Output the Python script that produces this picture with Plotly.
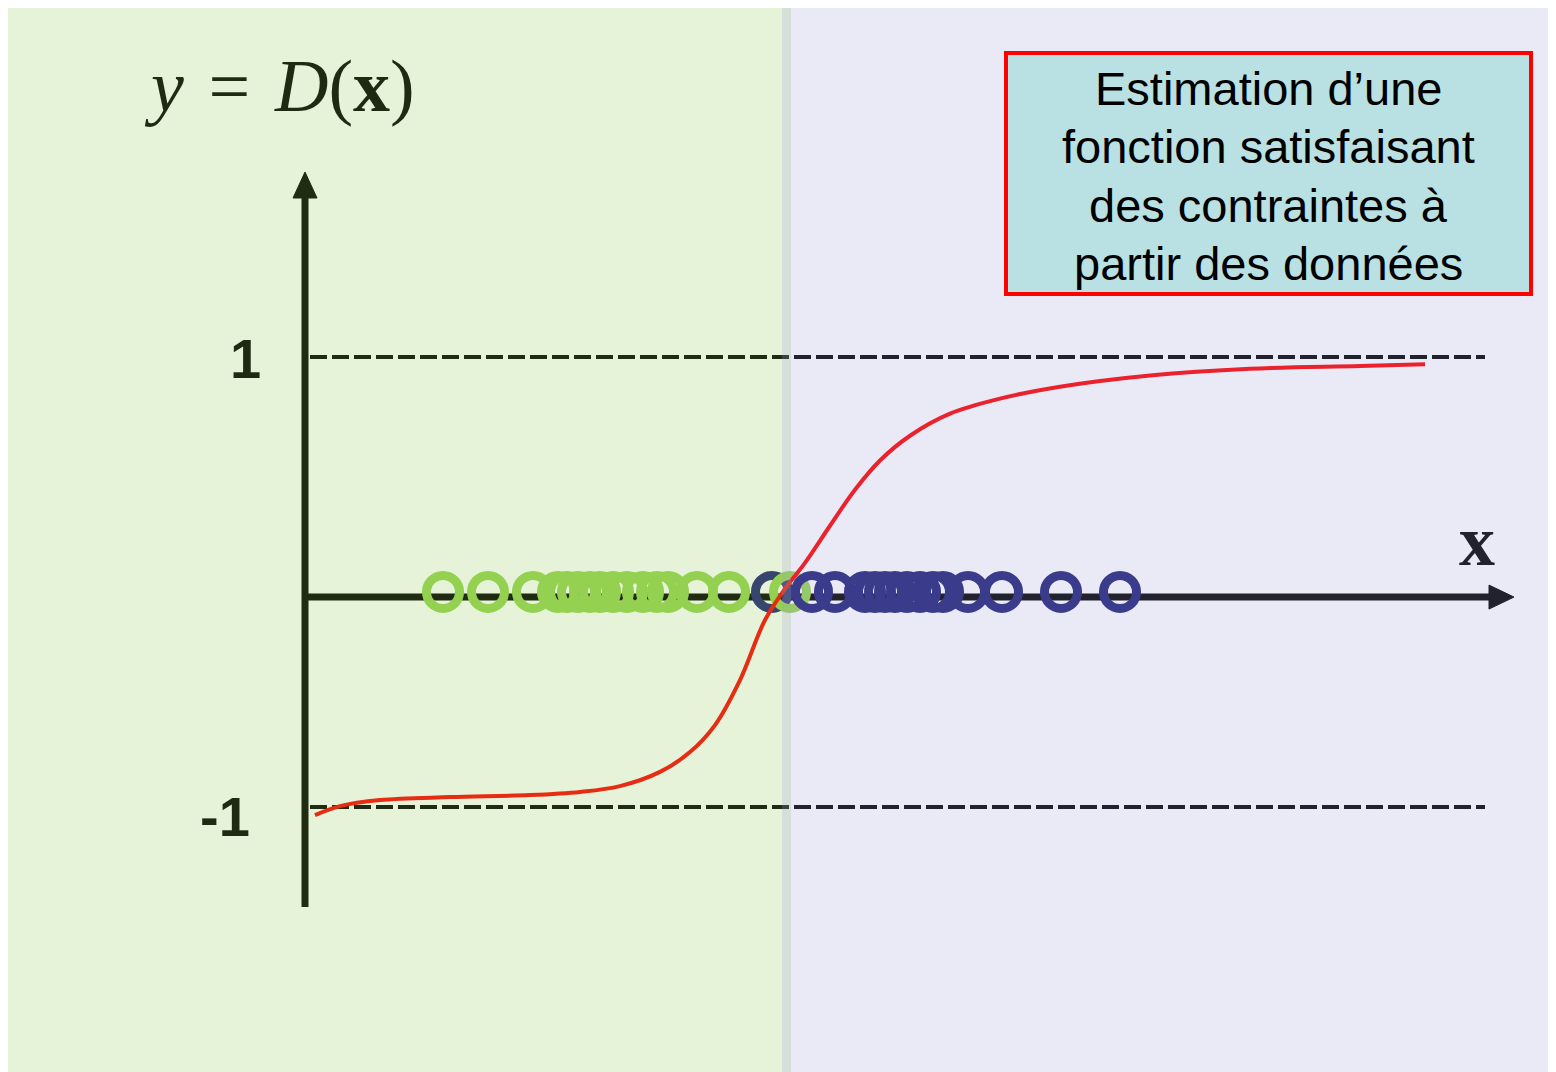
import plotly.graph_objects as go

OFF = 8                      # page offset of the plot div (body margin)
W, H = 1556 - OFF, 1072 - OFF
# axis scales: data units -> page pixels (layout)
XPX, X0PX = 100.0, 305.0
YPX, Y0PX = 225.0, 582.0

# ---- data ----
green_x = [1.38, 1.83, 2.28, 2.53, 2.62, 2.73, 2.85, 2.95, 3.08, 3.22, 3.38, 3.52, 3.63, 3.92, 4.24, 4.85]
navy_x = [4.67, 5.07, 5.30, 5.60, 5.70, 5.80, 5.90, 6.02, 6.15, 6.28, 6.38, 6.63, 6.97, 7.56, 8.15]
circle_y = -0.044
axis_y = -0.067

curve_x = [0.10, 0.35, 0.75, 1.45, 2.25, 2.75, 3.15, 3.55, 3.85, 4.10, 4.35, 4.60, 4.80, 5.00,
           5.25, 5.50, 5.75, 6.05, 6.45, 6.95, 7.55, 8.45, 9.45, 10.55, 11.20]
curve_y = [-1.036, -0.996, -0.969, -0.956, -0.947, -0.933, -0.907, -0.844, -0.756, -0.636,
           -0.436, -0.169, -0.030, 0.085, 0.250, 0.410, 0.540, 0.650, 0.748, 0.815, 0.868,
           0.918, 0.948, 0.960, 0.968]

bounds = [1, -1]
tick_labels = ["1", "-1"]
dash_x = [0.05, 11.8]

box_lines = ["Estimation d\u2019une", "fonction satisfaisant", "des contraintes \u00e0", "partir des donn\u00e9es"]

GREEN = "#96d450"
NAVY = "#212178"

fig = go.Figure()

# dashed bounds
for b in bounds:
    fig.add_trace(go.Scatter(x=dash_x, y=[b, b], mode="lines",
                             line=dict(color="black", width=4, dash="17px,5px"),
                             hoverinfo="skip", showlegend=False))

# axes lines
ax_top = (Y0PX - 196) / YPX
ax_bot = (Y0PX - 907) / YPX
ax_right = (1492 - X0PX) / XPX
fig.add_trace(go.Scatter(x=[0, 0], y=[ax_bot, ax_top], mode="lines",
                         line=dict(color="black", width=7), hoverinfo="skip", showlegend=False))
fig.add_trace(go.Scatter(x=[0, ax_right], y=[axis_y, axis_y], mode="lines",
                         line=dict(color="black", width=7), hoverinfo="skip", showlegend=False))
# arrowheads
hw = 12 / XPX
yb, yt = (Y0PX - 198) / YPX, (Y0PX - 172) / YPX
fig.add_trace(go.Scatter(x=[-hw, hw, 0, -hw], y=[yb, yb, yt, yb],
                         mode="lines", fill="toself", fillcolor="black", line=dict(color="black", width=1),
                         hoverinfo="skip", showlegend=False))
hh = 12 / YPX
xb, xt = (1489 - X0PX) / XPX, (1514 - X0PX) / XPX
fig.add_trace(go.Scatter(x=[xb, xb, xt, xb], y=[axis_y - hh, axis_y + hh, axis_y, axis_y - hh],
                         mode="lines", fill="toself", fillcolor="black", line=dict(color="black", width=1),
                         hoverinfo="skip", showlegend=False))

# circles (drawn in x order)
pts = sorted([(x, GREEN) for x in green_x] + [(x, NAVY) for x in navy_x])
fig.add_trace(go.Scatter(x=[p[0] for p in pts], y=[circle_y] * len(pts), mode="markers",
                         marker=dict(symbol="circle-open", size=33, color=[p[1] for p in pts],
                                     line=dict(width=9, color=[p[1] for p in pts])),
                         hoverinfo="skip", showlegend=False))

# red curve
fig.add_trace(go.Scatter(x=curve_x, y=curve_y, mode="lines",
                         line=dict(color="#ff0000", width=4, shape="spline", smoothing=1.0),
                         hoverinfo="skip", showlegend=False))

def px(xp):
    return (xp - OFF) / W

def py(yp):
    return 1 - (yp - OFF) / H

shapes = [
    dict(type="rect", xref="paper", yref="paper", x0=0, x1=px(791), y0=0, y1=1,
         fillcolor="rgba(141,200,84,0.22)", line=dict(width=0), layer="above"),
    dict(type="rect", xref="paper", yref="paper", x0=px(782), x1=1, y0=0, y1=1,
         fillcolor="rgba(157,157,213,0.216)", line=dict(width=0), layer="above"),
    dict(type="rect", xref="paper", yref="paper", x0=px(1006), x1=px(1531), y0=py(294), y1=py(53),
         fillcolor="#b9e0e2", line=dict(color="#ff0000", width=4), layer="above"),
]

annotations = []
for i, t in enumerate(box_lines):
    annotations.append(dict(xref="paper", yref="paper", x=px(1268), y=py(89 + 58 * i), text=t,
                            showarrow=False, xanchor="center", yanchor="middle",
                            font=dict(family="Liberation Sans, Arial", size=47, color="black")))

annotations.append(dict(xref="paper", yref="paper", x=px(279), y=py(86),
                        text="<i>y</i>\u2004=\u2004<i>D</i>(<b>x</b>)",
                        showarrow=False, xanchor="center", yanchor="middle",
                        font=dict(family="Liberation Serif, Times New Roman", size=74, color="#1f2a12")))
annotations.append(dict(xref="paper", yref="paper", x=px(1477), y=py(541), text="<b>x</b>",
                        showarrow=False, xanchor="center", yanchor="middle",
                        font=dict(family="Liberation Serif, Times New Roman", size=72, color="#22222e")))
label_cx = [245, 225]
label_shift = [-1, -9]
for b, lab, cx, sh in zip(bounds, tick_labels, label_cx, label_shift):
    annotations.append(dict(xref="paper", yref="y", x=px(cx), y=b, text="<b>%s</b>" % lab,
                            showarrow=False, xanchor="center", yanchor="middle", yshift=sh,
                            font=dict(family="Liberation Sans, Arial", size=56, color="#1f2a12")))

fig.update_layout(
    width=W, height=H, margin=dict(l=0, r=0, t=0, b=0),
    paper_bgcolor="white", plot_bgcolor="white",
    xaxis=dict(range=[-(X0PX - OFF) / XPX, (1556 - X0PX) / XPX], visible=False, fixedrange=True),
    yaxis=dict(range=[-(1072 - Y0PX) / YPX, (Y0PX - OFF) / YPX], visible=False, fixedrange=True),
    shapes=shapes, annotations=annotations, showlegend=False,
)

fig.write_html("out.html")
